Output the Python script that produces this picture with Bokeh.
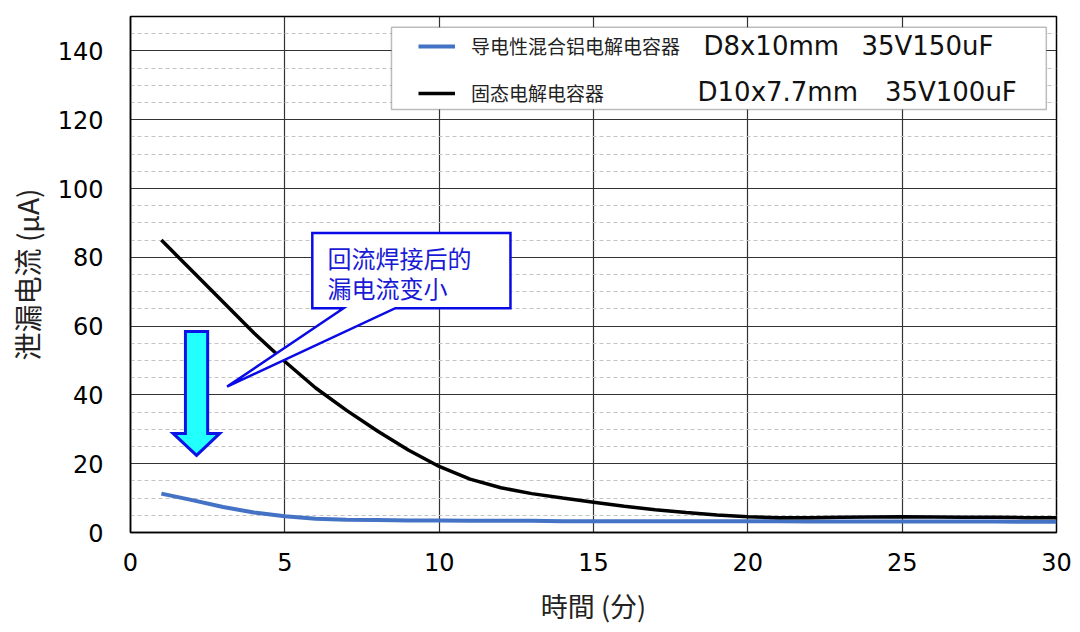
from bokeh.plotting import figure
from bokeh.models import Range1d, FixedTicker, Legend, LegendItem, BoxAnnotation, Label
from bokeh.embed import file_html
from bokeh.resources import INLINE

# ---- data ----
minutes = list(range(1, 31))
hybrid_ua = [11.3, 9.4, 7.4, 5.8, 4.7, 4.0, 3.7, 3.6, 3.5, 3.5,
             3.4, 3.4, 3.4, 3.3, 3.3, 3.3, 3.3, 3.3, 3.3, 3.3,
             3.3, 3.2, 3.2, 3.2, 3.2, 3.2, 3.2, 3.2, 3.1, 3.1]
solid_ua = [85.0, 76.0, 67.0, 58.0, 49.7, 42.0, 35.5, 29.5, 24.0, 19.2,
            15.5, 13.0, 11.3, 10.0, 8.8, 7.6, 6.6, 5.8, 5.1, 4.6,
            4.3, 4.3, 4.4, 4.5, 4.6, 4.5, 4.4, 4.4, 4.3, 4.3]
x_ticks = [0, 5, 10, 15, 20, 25, 30]
y_ticks = [0, 20, 40, 60, 80, 100, 120, 140]
y_minor = [v for v in range(5, 150, 5) if v % 20 != 0]

hybrid_name = "导电性混合铝电解电容器"
hybrid_size = "D8x10mm"
hybrid_rating = "35V150uF"
solid_name = "固态电解电容器"
solid_size = "D10x7.7mm"
solid_rating = "35V100uF"
callout_lines = ["回流焊接后的", "漏电流变小"]
x_title = "時間 (分)"
y_title = "泄漏电流 (μA)"

CJK = "Noto Sans CJK SC"
LATIN = "DejaVu Sans"
BLUE_LINE = "#4472c4"
CALLOUT_BLUE = "#0a0ae6"

p = figure(width=1076, height=630,
           x_range=Range1d(0, 30), y_range=Range1d(0, 150),
           output_backend="svg", toolbar_location=None,
           min_border_left=130, min_border_right=20,
           min_border_top=16, min_border_bottom=98,
           background_fill_color="white", border_fill_color="white")

p.outline_line_color = "black"
p.outline_line_width = 1.5

# axes
p.xaxis.ticker = FixedTicker(ticks=x_ticks)
p.yaxis.ticker = FixedTicker(ticks=y_ticks, minor_ticks=y_minor)
for ax in (p.xaxis, p.yaxis):
    ax.major_tick_out = 0
    ax.major_tick_in = 0
    ax.minor_tick_out = 0
    ax.minor_tick_in = 0
    ax.axis_line_color = "black"
    ax.axis_line_width = 1.5
    ax.major_label_text_font = LATIN
    ax.major_label_text_font_size = "24px"
    ax.major_label_text_color = "black"
    ax.axis_label_text_font = CJK
    ax.axis_label_text_font_style = "normal"
    ax.axis_label_text_color = "#222222"
p.yaxis.major_label_standoff = 27
p.xaxis.major_label_standoff = 20
p.xaxis.axis_label = x_title
p.yaxis.axis_label = y_title
p.xaxis.axis_label_text_font_size = "27px"
p.yaxis.axis_label_text_font_size = "28px"
p.xaxis.axis_label_standoff = 12
p.yaxis.axis_label_standoff = 8

# grids
p.xgrid.ticker = FixedTicker(ticks=x_ticks)
p.ygrid.ticker = FixedTicker(ticks=y_ticks, minor_ticks=y_minor)
for g in (p.xgrid, p.ygrid):
    g.grid_line_color = "#333333"
    g.grid_line_width = 1.2
p.ygrid.minor_grid_line_color = "#c4c4c4"
p.ygrid.minor_grid_line_dash = "4 3"
p.ygrid.minor_grid_line_width = 1

# data lines
r_h = p.line(minutes, hybrid_ua, line_color=BLUE_LINE, line_width=4)
r_s = p.line(minutes, solid_ua, line_color="black", line_width=3.5)

# callout (speech bubble) and arrow annotations
bubble_x = [5.89, 12.31, 12.31, 8.58, 3.13, 6.9, 5.89]
bubble_y = [87.1, 87.1, 65.2, 65.2, 42.4, 65.2, 65.2]
p.patch(bubble_x, bubble_y, fill_color="white", line_color=CALLOUT_BLUE,
        line_width=2.5, line_join="miter")

arrow_x = [1.78, 2.50, 2.50, 2.89, 2.14, 1.38, 1.78]
arrow_y = [58.4, 58.4, 28.8, 28.8, 22.4, 28.8, 28.8]
p.patch(arrow_x, arrow_y, fill_color="#22ffff", line_color="#0a14e6",
        line_width=3, line_join="miter")

for i, t in enumerate(callout_lines):
    p.add_layout(Label(x=6.38, y=80.0 - i * 8.75, text=t,
                       text_font=CJK, text_font_size="24px",
                       text_color="#1a1ad6", text_baseline="middle"))

# legend frame
p.add_layout(BoxAnnotation(left=8.455, right=29.67, bottom=123.0, top=146.9,
                           fill_color="white", fill_alpha=1.0,
                           line_color="#222222", line_width=1.5,
                           level="annotation"))

legend = Legend(items=[LegendItem(label=hybrid_name, renderers=[r_h]),
                       LegendItem(label=solid_name, renderers=[r_s])],
                location=(284, 422), margin=0, padding=4, spacing=20,
                glyph_width=37, glyph_height=26, label_height=26,
                label_standoff=16, border_line_alpha=0,
                background_fill_alpha=0,
                label_text_font=CJK, label_text_font_size="19px",
                label_text_color="#222222")
p.add_layout(legend)

spec_texts = [(18.56, 141.4, hybrid_size), (23.68, 141.4, hybrid_rating),
              (18.37, 128.0, solid_size), (24.44, 128.0, solid_rating)]
for sx, sy, t in spec_texts:
    p.add_layout(Label(x=sx, y=sy, text=t, text_font=LATIN,
                       text_font_size="26px", text_baseline="middle",
                       text_color="#111111"))

open("out.html", "w").write(file_html(p, INLINE))
